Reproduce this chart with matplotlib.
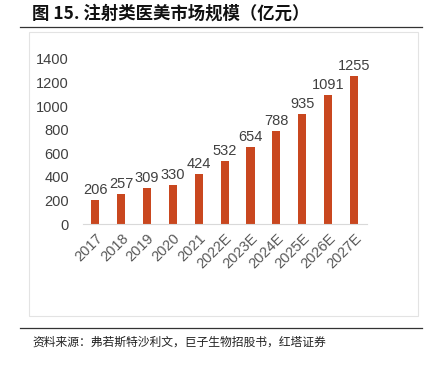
import matplotlib
matplotlib.use("Agg")
import matplotlib.pyplot as plt
from matplotlib.patches import Rectangle
from matplotlib.lines import Line2D

years = ["2017", "2018", "2019", "2020", "2021", "2022E", "2023E",
         "2024E", "2025E", "2026E", "2027E"]
market = [206, 257, 309, 330, 424, 532, 654, 788, 935, 1091, 1255]
yticks = [0, 200, 400, 600, 800, 1000, 1200, 1400]

title = "图 15. 注射类医美市场规模（亿元）"
source = "资料来源：弗若斯特沙利文，巨子生物招股书，红塔证券"

BAR = "#C9471F"
TXT = "#404040"

plt.rcParams["font.family"] = ["Liberation Sans", "Noto Sans CJK SC"]

fig = plt.figure(figsize=(4.29, 3.69), dpi=100)

# frame lines and grey box
fig.add_artist(Line2D([20 / 429, 422 / 429], [1 - 27 / 369] * 2, color="#333333", lw=0.9))
fig.add_artist(Line2D([20 / 429, 422 / 429], [1 - 328 / 369] * 2, color="#333333", lw=0.9))
fig.add_artist(Rectangle((29 / 429, 1 - 316 / 369), 389 / 429, 284 / 369,
                         fill=False, ec="#e3e3e3", lw=0.8))

fig.text(32 / 429, 1 - 14 / 369, title, fontsize=12.5, fontweight="bold",
         family=["Noto Sans CJK SC"], va="center", ha="left", color="#111111")
fig.text(32 / 429, 1 - 342 / 369, source, fontsize=8.5,
         family=["Noto Sans CJK SC"], va="center", ha="left", color="#222222")

ax = fig.add_axes([83 / 429, 1 - 224 / 369, 284 / 429, 165 / 369])
x = list(range(len(years)))
ax.bar(x, market, width=0.31, color=BAR)
for xi, v in zip(x, market):
    ax.text(xi, v + 25, str(v), ha="center", va="bottom", fontsize=10.5, color=TXT)

ax.set_xlim(-0.47, len(years) - 0.5)
ax.set_ylim(0, 1400)
ax.set_yticks(yticks)
ax.set_xticks(x)
ax.set_xticklabels(years, rotation=45, ha="right", rotation_mode="anchor")
ax.tick_params(axis="both", length=0, labelsize=10.5, labelcolor=TXT)
ax.tick_params(axis="x", labelcolor="#595959")
ax.tick_params(axis="y", pad=10)
ax.tick_params(axis="x", pad=5)
for s in ["top", "right", "left"]:
    ax.spines[s].set_visible(False)
ax.spines["bottom"].set_color("#d9d9d9")

fig.savefig("out.png", dpi=100)
